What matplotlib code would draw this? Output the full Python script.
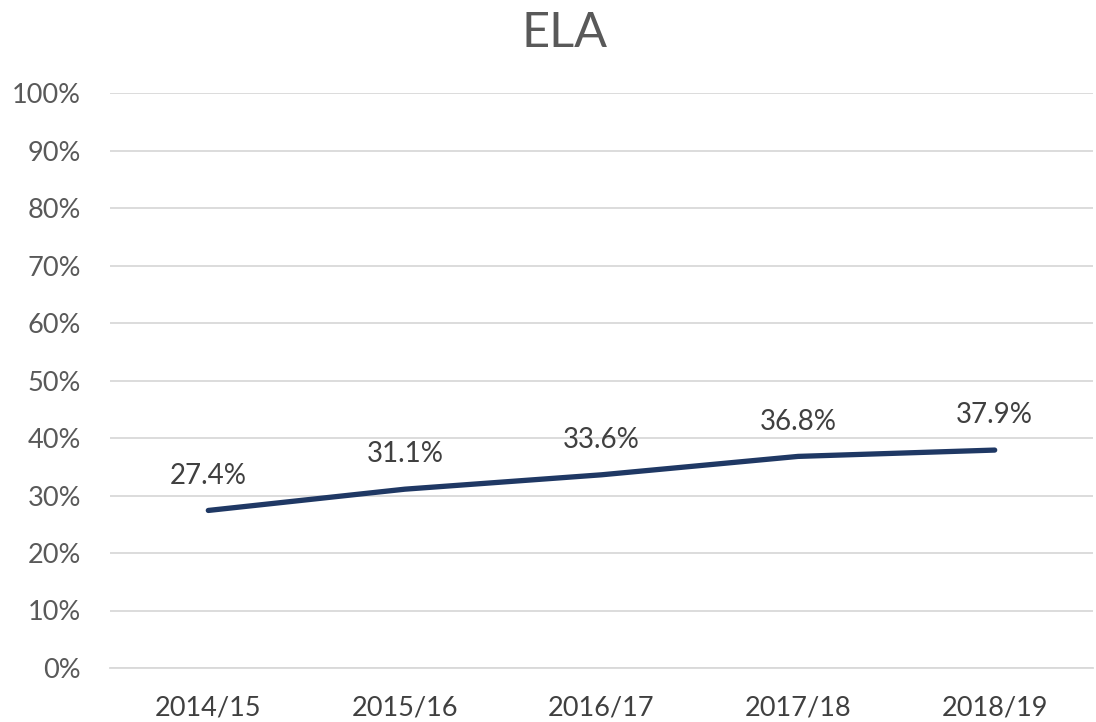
import matplotlib
matplotlib.use("Agg")
import matplotlib.pyplot as plt
from matplotlib.ticker import FuncFormatter

years = ["2014/15", "2015/16", "2016/17", "2017/18", "2018/19"]
values = [27.4, 31.1, 33.6, 36.8, 37.9]
yticks = [0, 10, 20, 30, 40, 50, 60, 70, 80, 90, 100]

plt.rcParams['font.family'] = ['Lato', 'DejaVu Sans']

fig = plt.figure(figsize=(10.96, 7.22), dpi=100)
ax = fig.add_axes([110/1096, 1 - 668/722, (1093 - 110)/1096, (668 - 93)/722])

x = list(range(len(years)))
ax.plot(x, values, color="#1F3864", lw=3.8, solid_capstyle="round", zorder=3)
for xi, v in zip(x, values):
    ax.annotate(f"{v:.1f}%", (xi, v), xytext=(0, 25), textcoords="offset points",
                ha="center", va="center", fontsize=20, color="#404040")

ax.set_xlim(-0.5, len(years) - 0.5)
ax.set_ylim(0, 100)
ax.set_yticks(yticks)
ax.yaxis.set_major_formatter(FuncFormatter(lambda v, p: f"{v:.0f}%"))
ax.set_xticks(x)
ax.set_xticklabels(years)
ax.grid(axis="y", color="#D9D9D9", lw=1.3)
ax.set_axisbelow(True)
for s in ax.spines.values():
    s.set_visible(False)
ax.spines["bottom"].set_visible(True)
ax.spines["bottom"].set_color("#D9D9D9")
ax.spines["bottom"].set_linewidth(1.3)
ax.tick_params(axis="y", length=0, pad=21, labelsize=19.5, labelcolor="#595959")
ax.tick_params(axis="x", length=0, pad=20, labelsize=19.5, labelcolor="#404040")

fig.text(565/1096, 1 - 33/722, "ELA", ha="center", va="center", fontsize=35, color="#595959")

fig.savefig("out.png", dpi=100)
